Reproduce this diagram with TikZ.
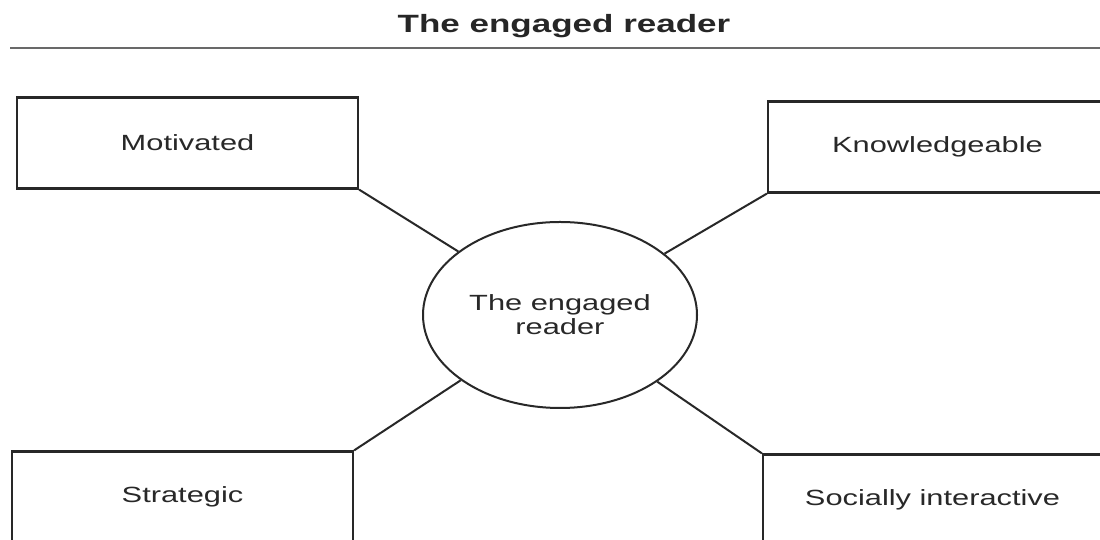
\documentclass[tikz,border=0pt]{standalone}
\usepackage{fontspec}
\setmainfont{Liberation Sans}[FakeStretch=1.4]
\usepackage{xcolor}
\usepackage{tikz}
\usetikzlibrary{shapes.geometric,positioning}
\definecolor{inkgray}{RGB}{40, 40, 40}
\definecolor{rulegray}{RGB}{105, 105, 105}

\begin{document}
\begin{tikzpicture}[
    x=1pt, y=1pt,
    trait/.style={rectangle, draw=inkgray, line width=2.2pt, fill=white, minimum height=91pt, align=center, text=inkgray, font=\fontsize{22}{26}\selectfont},
    hub/.style={ellipse, draw=inkgray, line width=2pt, fill=white, minimum width=274pt, minimum height=186pt, inner sep=0pt, align=center, text=inkgray, font=\fontsize{22}{24}\selectfont},
    spoke/.style={line width=2pt, inkgray},
    heading/.style={font=\fontsize{25}{28}\selectfont\bfseries, text=black!85}
]
\clip (0,0) rectangle (1100,540);
\fill[white] (0,0) rectangle (1100,540);

% Heading and rule
\node[heading] (title) at (564,514) {The engaged reader};
\coordinate (ruleL) at (10,492);
\coordinate (ruleR) at (1100,492);
\draw[rulegray, line width=2.4pt] (ruleL) -- (ruleR);

% Centre
\node[hub] (reader) at (560,225) {The engaged\\reader};

% Traits
\node[trait, minimum width=341pt] (motiv) at (187.5,397) {Motivated};
\node[trait, minimum width=339pt] (knowl) at (937.5,393) {Knowledgeable};
\node[trait, minimum width=341pt] (strat) at (182.5,43) {Strategic};
\node[trait, minimum width=339pt] (social) at (932.5,40) {Socially interactive};

% Spokes
\draw[spoke] (motiv.south east) -- (reader);
\draw[spoke] (knowl.south west) -- (reader);
\draw[spoke] (strat.north east) -- (reader);
\draw[spoke] (social.north west) -- (reader);

\end{tikzpicture}
\end{document}
